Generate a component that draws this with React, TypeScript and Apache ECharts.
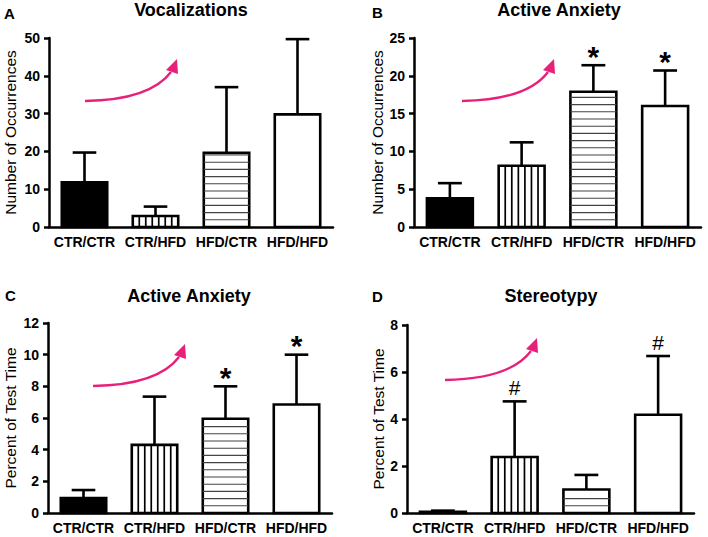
import React, { useEffect, useRef } from 'react';
import * as echarts from 'echarts';

const categories = ['CTR/CTR', 'CTR/HFD', 'HFD/CTR', 'HFD/HFD'];

const vocalMean = [11.8, 2.9, 19.6, 29.8];
const vocalErr = [7.9, 2.5, 17.4, 19.9];
const vocalSig = ['', '', '', ''];

const anxCountMean = [3.8, 8.1, 17.9, 16.0];
const anxCountErr = [2.0, 3.1, 3.5, 4.7];
const anxCountSig = ['', '', '*', '*'];

const anxPctMean = [0.95, 4.3, 5.95, 6.85];
const anxPctErr = [0.5, 3.05, 2.05, 3.15];
const anxPctSig = ['', '', '*', '*'];

const stereoMean = [0.05, 2.38, 1.0, 4.18];
const stereoErr = [0.05, 2.37, 0.62, 2.5];
const stereoSig = ['', '#', '', '#'];

const patterns = ['solid', 'vertical', 'horizontal', 'none'];

const FONT = '"Liberation Sans", Arial, Helvetica, sans-serif';
const ARROW = '#e8207a';

function barSeries(idx: number, means: number[], errs: number[], sig: string[]) {
  return {
    type: 'custom',
    xAxisIndex: idx,
    yAxisIndex: idx,
    clip: false,
    data: means.map((m, i) => [i, m, errs[i]]),
    renderItem: (params: any, api: any) => {
      const i = api.value(0);
      const v = api.value(1);
      const e = api.value(2);
      const base = api.coord([i, 0]);
      const top = api.coord([i, v]);
      const et = api.coord([i, v + e]);
      const bw = api.size([1, 0])[0] * 0.64;
      const left = base[0] - bw / 2;
      const h = base[1] - top[1];
      const pat = patterns[i];
      const children: any[] = [];
      children.push({
        type: 'line',
        shape: { x1: base[0], y1: top[1], x2: base[0], y2: et[1] },
        style: { stroke: '#000', lineWidth: 2.6 },
      });
      const capW = bw * 0.52;
      children.push({
        type: 'line',
        shape: { x1: base[0] - capW / 2, y1: et[1], x2: base[0] + capW / 2, y2: et[1] },
        style: { stroke: '#000', lineWidth: 2.6 },
      });
      children.push({
        type: 'rect',
        shape: { x: left, y: top[1], width: bw, height: h },
        style: { fill: pat === 'solid' ? '#000' : '#fff', stroke: '#000', lineWidth: 2.6 },
      });
      if (pat === 'vertical') {
        const n = 7;
        for (let k = 1; k < n; k++) {
          const x = left + (k * bw) / n;
          children.push({
            type: 'line',
            shape: { x1: x, y1: top[1], x2: x, y2: base[1] },
            style: { stroke: '#000', lineWidth: 1.7 },
          });
        }
      }
      if (pat === 'horizontal') {
        const step = 7.2;
        for (let y = base[1] - step; y > top[1] + 2; y -= step) {
          children.push({
            type: 'line',
            shape: { x1: left, y1: y, x2: left + bw, y2: y },
            style: { stroke: '#444', lineWidth: 1.1 },
          });
        }
      }
      const s = sig[i];
      if (s === '*') {
        children.push({
          type: 'text',
          style: {
            text: s,
            x: base[0],
            y: et[1] + 6,
            align: 'center',
            verticalAlign: 'bottom',
            font: `bold 30px ${FONT}`,
            fill: '#000',
          },
        });
      } else if (s) {
        children.push({
          type: 'text',
          style: {
            text: s,
            x: base[0],
            y: et[1] - 14,
            align: 'center',
            verticalAlign: 'middle',
            font: `21px ${FONT}`,
            fill: '#000',
          },
        });
      }
      return { type: 'group', children };
    },
  };
}

function arrow(x: number, y: number) {
  return {
    type: 'group',
    x,
    y,
    children: [
      {
        type: 'bezierCurve',
        shape: { x1: 0, y1: 42, cpx1: 65, cpy1: 41, x2: 86, y2: 13 },
        style: { stroke: ARROW, lineWidth: 2.4, fill: null },
      },
      {
        type: 'polygon',
        shape: { points: [[92, 0], [81, 11], [93, 15]] },
        style: { fill: ARROW },
      },
    ],
  };
}

function txt(text: string, x: number, y: number, size: number, bold: boolean, align = 'center') {
  return {
    type: 'text',
    x,
    y,
    style: {
      text,
      align,
      verticalAlign: 'middle',
      font: `${bold ? 'bold ' : ''}${size}px ${FONT}`,
      fill: '#000',
    },
  };
}

const grids = [
  { left: 49, top: 38, width: 284, height: 189 },
  { left: 414, top: 38, width: 287, height: 189 },
  { left: 48, top: 323, width: 284, height: 190 },
  { left: 407, top: 325, width: 287, height: 188 },
];

const yConf = [
  { max: 50, interval: 10, name: 'Number of Occurrences', gap: 31 },
  { max: 25, interval: 5, name: 'Number of Occurrences', gap: 26 },
  { max: 12, interval: 2, name: 'Percent of Test Time', gap: 30 },
  { max: 8, interval: 2, name: 'Percent of Test Time', gap: 20 },
];

export default function App() {
  const ref = useRef<HTMLDivElement>(null);
  useEffect(() => {
    if (!ref.current) return;
    const chart = echarts.init(ref.current, undefined, { renderer: 'svg' });
    const option: any = {
      animation: false,
      backgroundColor: '#fff',
      grid: grids.map((g) => ({ ...g, containLabel: false })),
      xAxis: grids.map((_, i) => ({
        type: 'category',
        gridIndex: i,
        data: categories,
        axisLine: { lineStyle: { color: '#000', width: 2.5 } },
        axisTick: { alignWithLabel: true, length: 5, lineStyle: { color: '#000', width: 2.5 } },
        axisLabel: { color: '#000', fontSize: 14, fontWeight: 'bold', fontFamily: FONT, margin: 8, interval: 0 },
        splitLine: { show: false },
      })),
      yAxis: yConf.map((c, i) => ({
        type: 'value',
        gridIndex: i,
        min: 0,
        max: c.max,
        interval: c.interval,
        name: c.name,
        nameLocation: 'middle',
        nameGap: c.gap,
        nameTextStyle: { color: '#000', fontSize: 15.5, fontFamily: FONT },
        axisLine: { show: true, lineStyle: { color: '#000', width: 2.5 } },
        axisTick: { show: true, length: 5, lineStyle: { color: '#000', width: 2.5 } },
        axisLabel: { color: '#000', fontSize: 14, fontWeight: 'bold', fontFamily: FONT, margin: 9 },
        splitLine: { show: false },
      })),
      series: [
        barSeries(0, vocalMean, vocalErr, vocalSig),
        barSeries(1, anxCountMean, anxCountErr, anxCountSig),
        barSeries(2, anxPctMean, anxPctErr, anxPctSig),
        barSeries(3, stereoMean, stereoErr, stereoSig),
      ],
      graphic: [
        txt('A', 4, 13, 15, true, 'left'),
        txt('Vocalizations', 191, 10, 18, true),
        txt('B', 372, 12, 15, true, 'left'),
        txt('Active Anxiety', 559, 10, 18, true),
        txt('C', 5, 295, 15, true, 'left'),
        txt('Active Anxiety', 189, 296, 18, true),
        txt('D', 372, 296, 15, true, 'left'),
        txt('Stereotypy', 551, 296, 18, true),
        arrow(85, 59),
        arrow(462, 59),
        arrow(93, 344),
        arrow(445, 338),
      ],
    };
    chart.setOption(option);
    return () => chart.dispose();
  }, []);
  return <div ref={ref} style={{ width: 708, height: 537, position: 'absolute', left: 0, top: 0 }} />;
}
